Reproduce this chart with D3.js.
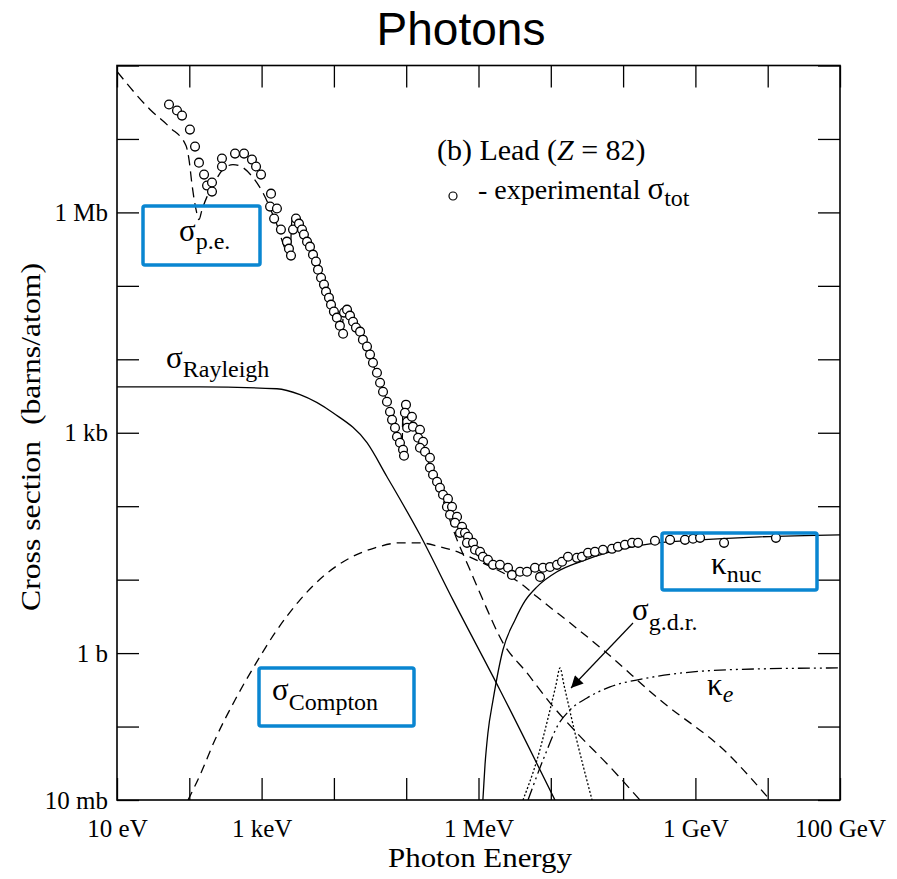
<!DOCTYPE html>
<html>
<head>
<meta charset="utf-8">
<script src="https://cdn.jsdelivr.net/npm/d3@7"></script>
<style>
  body { margin: 0; background: #fff; }
</style>
</head>
<body>
<svg id="chart" width="897" height="879"></svg>
<script>
// energies in MeV, cross sections in barns/atom (lead, Z = 82)

var xDecades = [1e-5, 1e-4, 1e-3, 1e-2, 1e-1, 1, 1e1, 1e2, 1e3, 1e4, 1e5];
var xTickLabels = ["10 eV", "", "1 keV", "", "", "1 MeV", "", "", "1 GeV", "", "100 GeV"];
var yDecades = [1e-2, 1e-1, 1, 1e1, 1e2, 1e3, 1e4, 1e5, 1e6, 1e7, 1e8];
var yTickLabels = ["10 mb", "", "1 b", "", "", "1 kb", "", "", "1 Mb", "", ""];

// photoelectric (dashed)
var peCurve = [
  [1.0e-5, 8.3e7], [2.86e-5, 2.52e7], [5.41e-5, 1.43e7], [8.99e-5, 8.13e6], [9.91e-5, 5.24e6],
  [1.09e-4, 2.39e6], [1.24e-4, 1.09e6], [1.36e-4, 7.98e5], [1.50e-4, 1.09e6], [1.76e-4, 1.64e6],
  [2.26e-4, 2.63e6], [2.92e-4, 3.83e6], [4.02e-4, 4.48e6], [5.53e-4, 4.07e6], [7.60e-4, 2.98e6],
  [1.04e-3, 1.86e6], [1.53e-3, 7.98e5], [2.47e-3, 2.58e5], [2.63e-3, 7.98e5], [3.40e-3, 5.83e5],
  [6.43e-3, 1.56e5], [1.29e-2, 2.70e4], [1.38e-2, 4.46e4], [1.67e-2, 3.69e4], [3.16e-2, 1.05e4],
  [5.09e-2, 3.19e3], [8.75e-2, 586], [9.04e-2, 2410], [0.155, 754], [0.293, 157], [0.505, 34.8],
  [0.762, 13.6], [1.15, 5.31], [2.18, 1.38], [4.69, 0.537], [9.75, 0.210], [23.0, 0.0818],
  [65.9, 0.0282], [171, 0.01]
];

// Rayleigh (solid)
var rayleighCurve = [
  [1e-5, 4.2e3], [1.41e-4, 4.2e3], [1.63e-3, 3.97e3], [3.40e-3, 3.30e3], [9.7e-3, 1.87e3],
  [2.87e-2, 731], [5.42e-2, 252], [0.155, 40.8], [0.443, 5.3], [1.98, 0.315], [11.4, 0.01]
];

// Compton (dashed)
var comptonCurve = [
  [9.6e-5, 0.01], [1.41e-4, 0.0219], [2.26e-4, 0.0656], [4.29e-4, 0.230], [8.1e-4, 0.690],
  [1.53e-3, 1.88], [3.40e-3, 5.31], [7.5e-3, 11.6], [1.67e-2, 19.8], [3.70e-2, 27.1],
  [8.2e-2, 31.7], [0.155, 31.7], [0.293, 28.0], [0.555, 23.2], [1.05, 17.5], [2.18, 12.4],
  [3.75, 9.04], [6.44, 5.83], [18.4, 2.58], [52.7, 1.11], [324, 0.230], [2735, 0.0437], [1.08e4, 0.01]
];

// pair production, nuclear field (solid)
var kappaNucCurve = [
  [1.12, 0.0069], [1.15, 0.01], [1.23, 0.030], [1.35, 0.0818], [1.59, 0.230], [2.18, 1.11],
  [3.20, 2.83], [4.40, 5.14], [6.44, 7.98], [12.2, 12.8], [25.4, 17.5], [65.9, 23.9],
  [236, 30.7], [1160, 34.8], [7820, 38.3], [1e5, 40.8]
];

// pair production, electron field (dash-dot-dot)
var kappaECurve = [
  [4.84, 0.01], [8.32, 0.041], [12.6, 0.105], [18.4, 0.168], [31.7, 0.245], [65.9, 0.347],
  [188, 0.446], [927, 0.555], [7820, 0.610], [1e5, 0.628]
];

// giant dipole resonance (dotted)
var gdrCurve = [
  [4.12, 0.01], [6.44, 0.0351], [9.75, 0.168], [11.8, 0.369], [13.4, 0.628], [15.2, 0.369],
  [21.6, 0.0818], [37.2, 0.01]
];

// experimental total cross section (open circles)
var expTotal = [
  [5.24e-5, 2.94e7], [6.76e-5, 2.44e7], [7.93e-5, 2.08e7], [1.02e-4, 1.34e7], [1.20e-4, 7.87e6],
  [1.36e-4, 4.76e6], [1.60e-4, 3.27e6], [1.76e-4, 2.32e6], [2.06e-4, 2.55e6], [2.06e-4, 1.92e6],
  [2.83e-4, 5.41e6], [2.83e-4, 4.21e6], [4.29e-4, 6.32e6], [5.72e-4, 6.32e6], [7.36e-4, 5.24e6],
  [8.38e-4, 4.21e6], [9.82e-4, 3.27e6], [1.35e-3, 1.80e6], [1.31e-3, 1.20e6], [1.63e-3, 1.13e6],
  [1.49e-3, 8.24e5], [1.85e-3, 5.83e5], [2.24e-3, 4.00e5], [2.39e-3, 3.21e5], [2.55e-3, 2.58e5],
  [2.72e-3, 5.83e5], [2.99e-3, 8.24e5], [3.29e-3, 7.03e5], [3.62e-3, 5.83e5], [3.85e-3, 4.99e5],
  [4.25e-3, 4.00e5], [4.67e-3, 3.42e5], [5.14e-3, 2.66e5], [5.65e-3, 2.14e5], [6.03e-3, 1.66e5],
  [6.64e-3, 1.29e5], [7.29e-3, 1.04e5], [7.78e-3, 8.34e4], [8.55e-3, 6.90e4], [9.12e-3, 5.55e4],
  [1.00e-2, 4.46e4], [1.10e-2, 3.69e4], [1.21e-2, 2.87e4], [1.34e-2, 2.23e4], [1.38e-2, 4.32e4],
  [1.52e-2, 4.74e4], [1.67e-2, 3.93e4], [1.84e-2, 3.25e4], [2.02e-2, 2.70e4], [2.30e-2, 2.38e4],
  [2.52e-2, 1.85e4], [2.87e-2, 1.49e4], [3.16e-2, 1.16e4], [3.47e-2, 8.99e3], [3.94e-2, 6.56e3],
  [4.35e-2, 4.80e3], [4.78e-2, 3.62e3], [5.42e-2, 2.64e3], [5.97e-2, 1.93e3], [6.37e-2, 1.50e3],
  [7.00e-2, 1.17e3], [7.46e-2, 883], [8.20e-2, 731], [9.04e-2, 586], [9.33e-2, 486],
  [9.93e-2, 2410], [9.61e-2, 1870], [0.103, 1410], [0.103, 1170], [0.120, 1650],
  [0.124, 1210], [0.155, 1100], [0.146, 855], [0.171, 754], [0.155, 625],
  [0.182, 551], [0.213, 456], [0.213, 334], [0.235, 268], [0.267, 215],
  [0.293, 178], [0.323, 143], [0.378, 126], [0.366, 98.2], [0.430, 98.2],
  [0.404, 76.4], [0.505, 71.8], [0.473, 59.4], [0.592, 52.4], [0.555, 43.4],
  [0.650, 43.4], [0.716, 38.3], [0.693, 31.7], [0.839, 31.7], [0.895, 25.5],
  [1.05, 23.9], [1.15, 20.5], [1.35, 18.6], [1.59, 15.9], [1.98, 15.9],
  [2.56, 14.5], [2.90, 11.6], [3.75, 12.8], [4.69, 12.8], [6.04, 14.5],
  [7.10, 10.9], [7.80, 14.5], [9.75, 14.9], [12.2, 15.9], [14.3, 17.5],
  [17.3, 20.5], [23.0, 19.8], [27.0, 20.5], [32.7, 23.2], [40.8, 23.9],
  [52.7, 25.5], [70.2, 26.3], [84.9, 28.0], [106, 29.8], [133, 31.7],
  [161, 31.7], [276, 33.8], [446, 34.8], [718, 34.8], [927, 36.0],
  [1160, 37.1], [2490, 31.7], [1.30e4, 37.1]
];

var serif = "'Liberation Serif', 'Times New Roman', Times, serif";
var boxBlue = "#0a86d1";

var plotLeft = 117, plotRight = 840, plotTop = 65.5, plotBottom = 800;
var tickLen = 22;

var svg = d3.select("#chart");

var x = d3.scaleLog().domain([1e-5, 1e5]).range([plotLeft, plotRight]);
var y = d3.scaleLog().domain([1e-2, 1e8]).range([plotBottom, plotTop]);

var defs = svg.append("defs");
defs.append("clipPath").attr("id", "plotClip")
    .append("rect")
    .attr("x", plotLeft).attr("y", plotTop)
    .attr("width", plotRight - plotLeft).attr("height", plotBottom - plotTop);

defs.append("marker")
    .attr("id", "arrowHead")
    .attr("viewBox", "0 0 10 10")
    .attr("refX", 10).attr("refY", 5)
    .attr("markerWidth", 16).attr("markerHeight", 12)
    .attr("markerUnits", "userSpaceOnUse")
    .attr("orient", "auto")
    .append("path").attr("d", "M0,0 L10,5 L0,10 Z").attr("fill", "#000");

// title
svg.append("text")
    .attr("x", 461).attr("y", 45)
    .attr("text-anchor", "middle")
    .attr("font-family", "'Liberation Sans', Arial, sans-serif")
    .attr("font-size", 46)
    .text("Photons");

// axes: ticks on all four sides pointing inward
function styleAxis(g) {
    g.select(".domain").remove();
    g.selectAll(".tick line").attr("stroke", "#000").attr("stroke-width", 1.3);
    g.selectAll(".tick text").attr("font-family", serif).attr("font-size", 25).attr("fill", "#000");
}

svg.append("g")
    .attr("transform", "translate(0," + plotBottom + ")")
    .call(d3.axisBottom(x).tickValues(xDecades).tickSize(-tickLen).tickPadding(19)
        .tickFormat(function (d, i) { return xTickLabels[i]; }))
    .call(styleAxis);

svg.append("g")
    .attr("transform", "translate(0," + plotTop + ")")
    .call(d3.axisTop(x).tickValues(xDecades).tickSize(-tickLen).tickFormat(""))
    .call(styleAxis);

svg.append("g")
    .attr("transform", "translate(" + plotLeft + ",0)")
    .call(d3.axisLeft(y).tickValues(yDecades).tickSize(-tickLen).tickPadding(9)
        .tickFormat(function (d, i) { return yTickLabels[i]; }))
    .call(styleAxis);

svg.append("g")
    .attr("transform", "translate(" + plotRight + ",0)")
    .call(d3.axisRight(y).tickValues(yDecades).tickSize(-tickLen).tickFormat(""))
    .call(styleAxis);

svg.append("rect")
    .attr("x", plotLeft).attr("y", plotTop)
    .attr("width", plotRight - plotLeft).attr("height", plotBottom - plotTop)
    .attr("fill", "none").attr("stroke", "#000").attr("stroke-width", 1.6);

// axis titles
svg.append("text")
    .attr("x", 480).attr("y", 867)
    .attr("text-anchor", "middle")
    .attr("font-family", serif).attr("font-size", 27)
    .attr("textLength", 184).attr("lengthAdjust", "spacingAndGlyphs")
    .text("Photon Energy");

svg.append("text")
    .attr("transform", "translate(40,437) rotate(-90)")
    .attr("text-anchor", "middle")
    .attr("font-family", serif).attr("font-size", 28)
    .attr("textLength", 348).attr("lengthAdjust", "spacingAndGlyphs")
    .text("Cross section\u00a0 (barns/atom)");

// curves
var line = d3.line()
    .x(function (d) { return x(d[0]); })
    .y(function (d) { return y(d[1]); })
    .curve(d3.curveMonotoneX);

var curves = svg.append("g").attr("clip-path", "url(#plotClip)")
    .attr("fill", "none").attr("stroke", "#000").attr("stroke-width", 1.3);

curves.append("path").datum(rayleighCurve).attr("d", line);
curves.append("path").datum(kappaNucCurve).attr("d", line);
curves.append("path").datum(peCurve).attr("d", line).attr("stroke-dasharray", "10,6");
curves.append("path").datum(comptonCurve).attr("d", line).attr("stroke-dasharray", "9,6");
curves.append("path").datum(kappaECurve).attr("d", line).attr("stroke-dasharray", "12,4,2,4,2,4");
curves.append("path").datum(gdrCurve).attr("d", line).attr("stroke-dasharray", "2,2");

// experimental points
svg.append("g").selectAll("circle")
    .data(expTotal)
    .enter().append("circle")
    .attr("cx", function (d) { return x(d[0]); })
    .attr("cy", function (d) { return y(d[1]); })
    .attr("r", 4.4)
    .attr("fill", "#fff")
    .attr("stroke", "#000")
    .attr("stroke-width", 1.3);

// labels
function symLabel(px, py, sym, sub, subDy, italicSub) {
    var t = svg.append("text")
        .attr("x", px).attr("y", py)
        .attr("font-family", serif).attr("fill", "#000");
    t.append("tspan").attr("font-size", 31).text(sym);
    t.append("tspan").attr("font-size", 24).attr("dy", subDy)
        .attr("font-style", italicSub ? "italic" : "normal").text(sub);
}

symLabel(179, 241, "\u03c3", "p.e.", 8, false);
symLabel(166, 368, "\u03c3", "Rayleigh", 9, false);
symLabel(272, 700, "\u03c3", "Compton", 10, false);
symLabel(711, 574, "\u03ba", "nuc", 8, false);
symLabel(632, 620, "\u03c3", "g.d.r.", 10, false);
symLabel(707, 695, "\u03ba", "e", 7, true);

// arrow to g.d.r. peak
svg.append("line")
    .attr("x1", 633).attr("y1", 623)
    .attr("x2", 571).attr("y2", 688)
    .attr("stroke", "#000").attr("stroke-width", 1.2)
    .attr("marker-end", "url(#arrowHead)");

// legend text
var lead = svg.append("text")
    .attr("x", 437).attr("y", 160)
    .attr("font-family", serif).attr("font-size", 30);
lead.append("tspan").text("(b) Lead (");
lead.append("tspan").attr("font-style", "italic").text("Z");
lead.append("tspan").text(" = 82)");

svg.append("circle")
    .attr("cx", 453).attr("cy", 196).attr("r", 4)
    .attr("fill", "#fff").attr("stroke", "#000").attr("stroke-width", 1.2);

var exp = svg.append("text")
    .attr("x", 478).attr("y", 199)
    .attr("font-family", serif);
exp.append("tspan").attr("font-size", 28).text("- experimental ");
exp.append("tspan").attr("font-size", 31).text("\u03c3");
exp.append("tspan").attr("font-size", 24).attr("dy", 7).text("tot");

// highlight boxes
var boxes = [
    {x0: 143, y0: 206, x1: 260, y1: 265},
    {x0: 662, y0: 533, x1: 817, y1: 590},
    {x0: 259, y0: 668, x1: 414, y1: 726}
];
svg.append("g").selectAll("rect")
    .data(boxes)
    .enter().append("rect")
    .attr("x", function (d) { return d.x0; })
    .attr("y", function (d) { return d.y0; })
    .attr("width", function (d) { return d.x1 - d.x0; })
    .attr("height", function (d) { return d.y1 - d.y0; })
    .attr("rx", 2)
    .attr("fill", "none")
    .attr("stroke", boxBlue)
    .attr("stroke-width", 3.5);
</script>
</body>
</html>
